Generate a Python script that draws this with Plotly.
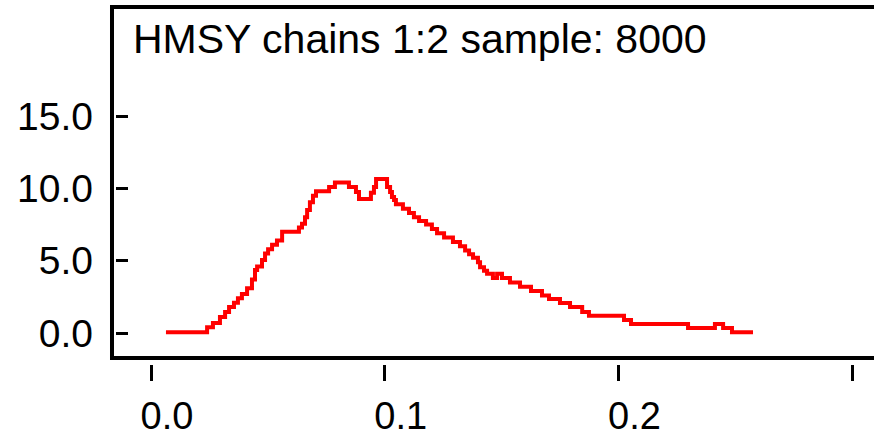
import plotly.graph_objects as go

# Density of HMSY (step-like kernel density as drawn by BUGS)
hmsy = [0.0064, 0.0240, 0.0265, 0.0295, 0.0317, 0.0334, 0.0355, 0.0372, 0.0389, 0.0411,
        0.0432, 0.0445, 0.0454, 0.0475, 0.0488, 0.0501, 0.0518, 0.0539, 0.0561, 0.0633,
        0.0646, 0.0659, 0.0668, 0.0680, 0.0693, 0.0706, 0.0762, 0.0787, 0.0847, 0.0877,
        0.0890, 0.0941, 0.0954, 0.0963, 0.1010, 0.1023, 0.1031, 0.1040, 0.1048, 0.1078,
        0.1104, 0.1125, 0.1147, 0.1177, 0.1202, 0.1224, 0.1254, 0.1292, 0.1322, 0.1344,
        0.1361, 0.1378, 0.1399, 0.1408, 0.1425, 0.1438, 0.1463, 0.1481, 0.1502, 0.1536,
        0.1579, 0.1626, 0.1673, 0.1703, 0.1750, 0.1793, 0.1845, 0.1874, 0.2024, 0.2054,
        0.2298, 0.2413, 0.2448, 0.2486, 0.2576]
density = [0.05, 0.4, 0.7, 1.1, 1.45, 1.8, 2.1, 2.4, 2.7, 3.1,
           3.7, 4.35, 4.6, 5.05, 5.5, 5.8, 6.1, 6.4, 7.0, 7.3,
           7.55, 8.0, 8.5, 9.05, 9.5, 9.8, 10.1, 10.4, 10.1, 9.75,
           9.27, 9.7, 10.1, 10.65, 10.1, 9.75, 9.4, 9.2, 8.9, 8.6,
           8.3, 8.0, 7.75, 7.5, 7.2, 6.9, 6.6, 6.3, 6.0, 5.7,
           5.45, 5.2, 4.9, 4.55, 4.3, 4.1, 3.8, 4.1, 3.8, 3.5,
           3.2, 2.9, 2.6, 2.35, 2.07, 1.8, 1.45, 1.2, 0.9, 0.62,
           0.35, 0.62, 0.35, 0.05, 0.05]

x_ticks = [0.0, 0.1, 0.2, 0.3]
x_tick_labels = ["0.0", "0.1", "0.2", ""]
y_ticks = [0, 5, 10, 15]
y_tick_labels = ["0.0", "5.0", "10.0", "15.0"]
title_text = "HMSY chains 1:2 sample: 8000"

FONT = "Liberation Sans, Arial, sans-serif"

fig = go.Figure()
fig.add_trace(go.Scatter(x=hmsy, y=density, mode="lines",
                         line=dict(color="#ff0000", width=4, shape="hv"),
                         showlegend=False, hoverinfo="skip"))

fig.update_layout(
    width=874, height=438,
    margin=dict(l=116, r=0, t=7, b=74, autoexpand=False),
    paper_bgcolor="white", plot_bgcolor="white",
    font=dict(family=FONT, color="black", size=40),
    showlegend=False,
)
fig.update_xaxes(range=[-0.01498, 0.30937], tickvals=x_ticks, ticktext=x_tick_labels,
                 ticks="outside", ticklen=16, tickwidth=3, tickcolor="black",
                 showline=False, showgrid=False, zeroline=False, automargin=False,
                 tickfont=dict(family=FONT, size=38, color="black"),
                 ticklabelshift=16, ticklabelstandoff=2)
fig.update_yaxes(range=[-2.144, 22.545], tickvals=y_ticks, ticktext=y_tick_labels,
                 ticks="inside", ticklen=12, tickwidth=3, tickcolor="black",
                 showline=False, showgrid=False, zeroline=False, automargin=False,
                 tickfont=dict(family=FONT, size=39, color="black"),
                 ticklabelstandoff=22)

# Frame of the plot (BUGS style, detached from the tick marks)
fig.add_shape(type="rect", xref="paper", yref="paper",
              x0=-0.00528, x1=1.02, y0=0.0168, y1=1.0,
              line=dict(color="black", width=4), fillcolor="rgba(0,0,0,0)", layer="above")

fig.add_annotation(text=title_text, xref="paper", yref="paper",
                   x=(131 - 116) / 758, y=0.909, xanchor="left", yanchor="middle",
                   showarrow=False, font=dict(family=FONT, size=41, color="black"))

fig.write_html("out.html")
